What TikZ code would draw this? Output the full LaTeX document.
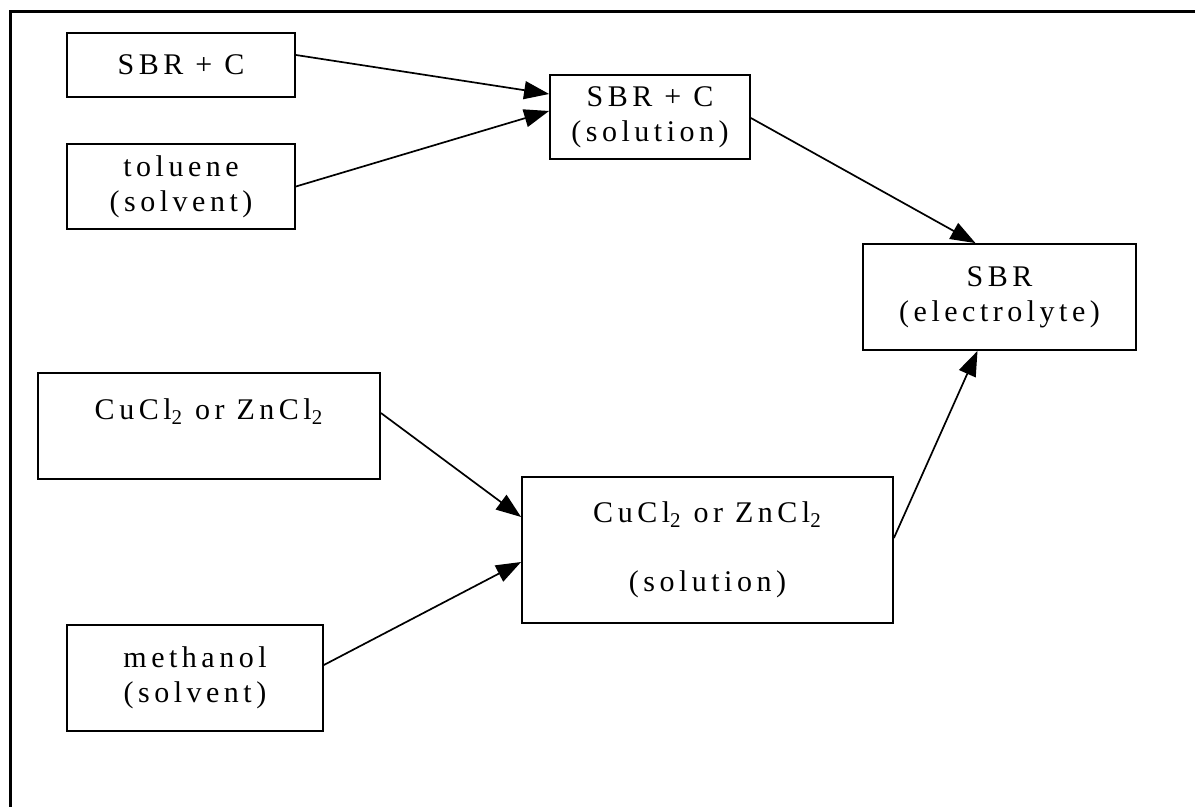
\documentclass[tikz,border=0pt]{standalone}
\usepackage{fontspec}
\setmainfont{Liberation Serif}[LetterSpace=15]
\usetikzlibrary{arrows.meta,positioning}
\tikzset{
  Box/.style={
    draw, line width=0.9pt,
    align=center, inner sep=0pt,
    font=\fontsize{15}{17.5}\selectfont
  },
  Flow/.style={
    line width=0.85pt,
    -{Triangle[length=12.5pt,width=9pt]}
  }
}

\begin{document}
\begin{tikzpicture}[x=0.5pt, y=-0.5pt, line cap=butt, line join=miter]
  \useasboundingbox (0,0) rectangle (1195,807);
  % page frame (top and left only)
  \draw[line width=1.5pt] (10,807) -- (10,12) -- (1195,12);

  % rubber branch
  \node[Box, minimum width=114pt, minimum height=32pt] (sbrc) at (181,65) {SBR + C};
  \node[Box, minimum width=114pt, minimum height=42.5pt] (tol) at (181,186.5) {toluene\\(solvent)};
  \node[Box, minimum width=100pt, minimum height=42pt] (sbrsol) at (650,117) {SBR + C\\(solution)};

  % salt branch
  \node[Box, minimum width=171pt, text height=23.5pt, text depth=29.5pt] (salt) at (209,426) {CuCl\textsubscript{2} or ZnCl\textsubscript{2}};
  \node[Box, minimum width=128pt, minimum height=53pt] (meth) at (195,678) {methanol\\(solvent)};
  \node[Box, minimum width=185.5pt, minimum height=73pt] (saltsol) at (707.5,550) {CuCl\textsubscript{2} or ZnCl\textsubscript{2}\\[17pt](solution)};

  % product
  \node[Box, minimum width=136.5pt, minimum height=53pt] (sbrel) at (999.5,297) {SBR\\(electrolyte)};

  \draw[Flow] ([yshift=5pt]sbrc.east) -- ([yshift=11.5pt]sbrsol.west);
  \draw[Flow] (tol.east) -- ([yshift=3pt]sbrsol.west);
  \draw[Flow] ([yshift=-0.5pt]sbrsol.east) -- ([xshift=-12pt]sbrel.north);
  \draw[Flow] ([yshift=6.5pt]salt.east) -- ([yshift=16.5pt]saltsol.west);
  \draw[Flow] ([yshift=6.5pt]meth.east) -- ([yshift=-6pt]saltsol.west);
  \draw[Flow] ([yshift=6pt]saltsol.east) -- ([xshift=-11pt]sbrel.south);
\end{tikzpicture}
\end{document}
